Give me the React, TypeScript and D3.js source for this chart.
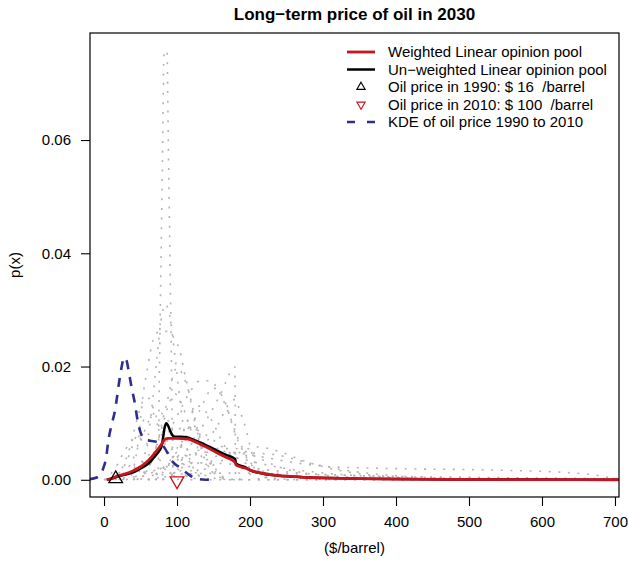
import React, { useEffect, useRef } from "react";
import * as d3 from "d3";

type Pt = [number, number];

// axis ticks
const xTicks = [0, 100, 200, 300, 400, 500, 600, 700];
const yTicks = [0, 0.02, 0.04, 0.06];

// observed prices ($/barrel)
const price1990 = 16;
const price2010 = 100;

// pooled densities
const weightedPool: Pt[] = [
  [3.7, 0], [10, 0.0002], [17, 0.0006], [28, 0.001], [40, 0.0016], [50, 0.0023],
  [58, 0.0031], [65, 0.004], [70, 0.0048], [75, 0.0056], [79, 0.0063], [83, 0.0071],
  [88, 0.0073], [100, 0.0073], [115, 0.0072], [125, 0.0067], [131.5, 0.0063],
  [143, 0.0056], [154, 0.0048], [167, 0.004], [179.5, 0.0031], [181, 0.0026],
  [195, 0.002], [200, 0.0017], [214, 0.0012], [227, 0.0009], [241, 0.0007],
  [255, 0.0006], [280, 0.0004], [310, 0.0003], [350, 0.0002], [400, 0.00012],
  [500, 0.00006], [600, 0.00003], [705, 0.00001],
];

const unweightedPool: Pt[] = [
  [3.7, 0], [10, 0.0002], [17, 0.0005], [28, 0.0009], [40, 0.0013], [50, 0.002],
  [58, 0.0026], [65, 0.0034], [70, 0.0042], [75, 0.005], [79, 0.006], [81, 0.0075],
  [83, 0.0092], [85.5, 0.01], [88, 0.0095], [90.5, 0.0087], [93, 0.008], [97, 0.0076],
  [105, 0.0076], [113, 0.0075], [122, 0.0071], [131.5, 0.0066], [143, 0.0059],
  [154, 0.0052], [167, 0.0044], [179.5, 0.0037], [181, 0.0029], [195, 0.0021],
  [200, 0.0017], [214, 0.0012], [227, 0.0009], [241, 0.0007], [255, 0.0006],
  [280, 0.0004], [310, 0.0003], [350, 0.0002], [400, 0.00012], [500, 0.00006],
  [600, 0.00003], [705, 0.00001],
];

const kdeHistoric: Pt[] = [
  [-20, 0.0001], [-10, 0.0004], [-1.4, 0.0019], [3, 0.004], [5.9, 0.0069], [10, 0.0095],
  [15, 0.0122], [21, 0.0175], [25, 0.0205], [27.4, 0.0216], [31, 0.021], [34, 0.019],
  [37.8, 0.0163], [42.4, 0.0134], [46, 0.0105], [49.3, 0.0087], [55, 0.0072],
  [63, 0.0069], [74.4, 0.0066], [79, 0.0062], [83.6, 0.0055], [88, 0.0045],
  [92.6, 0.0034], [98, 0.0027], [104, 0.0022], [110, 0.0015], [115.5, 0.001],
  [121, 0.0005], [127, 0.0002], [135, 0.00005], [145, 0],
];

// individual expert densities (grey dotted)
const expertA: Pt[] = [
  [60, 0], [73.8, 0.0003], [76, 0.02], [78, 0.038], [80, 0.056], [82.3, 0.0756],
  [84.5, 0.0758], [86.3, 0.0756], [88, 0.0603], [90, 0.0423], [92, 0.0243],
  [94.5, 0.0015], [100, 0], [705, 0],
];
const expertB: Pt[] = [
  [25, 0], [40, 0.002], [47, 0.007], [53, 0.0145], [60, 0.02], [67, 0.0246],
  [76, 0.0262], [88, 0.0262], [98, 0.0245], [104, 0.0228], [110, 0.019],
  [115, 0.0163], [123, 0.011], [132, 0.006], [145, 0.002], [165, 0.0003], [190, 0],
];
const expertC: Pt[] = [
  [45, 0], [65, 0.003], [85, 0.0075], [105, 0.0125], [120, 0.016], [132, 0.0175],
  [145, 0.0175], [158, 0.0155], [170, 0.012], [183, 0.0075], [197, 0.0038],
  [215, 0.0012], [240, 0.0002], [270, 0],
];
const expertD: Pt[] = [
  [80, 0], [100, 0.0025], [120, 0.0065], [140, 0.0105], [160, 0.0152],
  [179.3, 0.0199], [180.2, 0.0003], [200, 0], [705, 0],
];
const expertE: Pt[] = [
  [70, 0], [100, 0.0015], [130, 0.005], [155, 0.0095], [172, 0.0135], [180, 0.0142],
  [186, 0.0122], [195, 0.0087], [203, 0.0045], [212, 0.0015], [225, 0.0002], [240, 0],
];
const expertF: Pt[] = [
  [40, 0], [70, 0.0015], [100, 0.0035], [130, 0.0048], [160, 0.005], [190, 0.0046],
  [223, 0.0039], [248, 0.0033], [273, 0.0028], [310, 0.0023], [355, 0.0021],
  [433, 0.0019], [500, 0.0018], [570, 0.0016], [631, 0.0013], [670, 0.0009],
  [697, 0.0003], [705, 0.0002],
];
const expertG: Pt[] = [
  [30, 0], [80, 0.002], [120, 0.003], [170, 0.0028], [220, 0.0018], [280, 0.0011],
  [350, 0.0007], [430, 0.0005], [520, 0.0004], [610, 0.0003], [705, 0.0002],
];
const expertH: Pt[] = [
  [60, 0], [100, 0.003], [140, 0.0055], [180, 0.0055], [214, 0.0037], [241, 0.0022],
  [270, 0.0013], [310, 0.0007], [360, 0.0003], [420, 0.0001], [500, 0],
];
const expertJ: Pt[] = [
  [15, 0], [35, 0.0025], [50, 0.0068], [62, 0.0105], [72, 0.012], [84, 0.0112],
  [97, 0.0078], [112, 0.0042], [130, 0.0015], [155, 0.0002], [180, 0],
];
const expertK: Pt[] = [
  [25, 0], [55, 0.0025], [80, 0.0062], [100, 0.0088], [115, 0.0093], [135, 0.0083],
  [160, 0.006], [190, 0.0032], [225, 0.0012], [270, 0.0003], [320, 0],
];
const expertL: Pt[] = [
  [45, 0], [65, 0.0035], [80, 0.0095], [90, 0.0138], [97, 0.0152], [106, 0.0135],
  [118, 0.0092], [132, 0.0045], [150, 0.0012], [170, 0],
];
const expertM: Pt[] = [
  [5, 0], [22, 0.0015], [35, 0.0055], [45, 0.0105], [53, 0.0138], [60, 0.0145],
  [68, 0.0125], [80, 0.0075], [95, 0.003], [115, 0.0006], [135, 0],
];
const expertN: Pt[] = [
  [80, 0], [130, 0.003], [180, 0.0048], [230, 0.0045], [280, 0.003], [330, 0.0017],
  [390, 0.0008], [460, 0.0003], [540, 0],
];
const expertO: Pt[] = [
  [80, 0], [95, 0.002], [108, 0.0065], [120, 0.0098], [132, 0.0078], [145, 0.0038],
  [160, 0.0008], [175, 0],
];
const expertP: Pt[] = [
  [0, 0], [100, 0.001], [200, 0.0012], [300, 0.0009], [400, 0.0006], [500, 0.0004],
  [600, 0.0002], [705, 0.0001],
];
const expertQ: Pt[] = [
  [40, 0], [55, 0.004], [65, 0.012], [72, 0.021], [78, 0.028], [84, 0.031],
  [90, 0.029], [97, 0.022], [105, 0.013], [113, 0.006], [125, 0.0015], [140, 0],
];
const expertR: Pt[] = [
  [50, 0], [70, 0.005], [85, 0.013], [100, 0.0198], [115, 0.016], [130, 0.008],
  [145, 0.003], [165, 0],
];
const expertS: Pt[] = [
  [60, 0], [100, 0.005], [130, 0.012], [150, 0.0162], [165, 0.014], [180, 0.008],
  [200, 0.003], [230, 0],
];
const expertT: Pt[] = [
  [10, 0], [30, 0.003], [45, 0.008], [60, 0.0112], [75, 0.0095], [95, 0.005],
  [120, 0.0015], [150, 0],
];
const expertU: Pt[] = [
  [20, 0], [50, 0.003], [90, 0.007], [130, 0.006], [180, 0.004], [240, 0.0022],
  [300, 0.0012], [380, 0.0005], [460, 0],
];
const expertV: Pt[] = [
  [70, 0], [95, 0.004], [115, 0.0105], [130, 0.013], [145, 0.011], [165, 0.006],
  [190, 0.002], [215, 0],
];
const expertW: Pt[] = [
  [100, 0], [140, 0.002], [180, 0.0045], [210, 0.0058], [240, 0.005], [270, 0.0035],
  [310, 0.002], [360, 0.0009], [420, 0.0003], [500, 0],
];
const expertX: Pt[] = [
  [0, 0], [15, 0.002], [30, 0.0055], [45, 0.0075], [60, 0.006], [80, 0.003],
  [100, 0.001], [120, 0],
];

const expertCurves = [
  expertA, expertB, expertC, expertD, expertE, expertF, expertG, expertH,
  expertJ, expertK, expertL, expertM, expertN, expertO, expertP, expertQ,
  expertR, expertS, expertT, expertU, expertV, expertW, expertX,
];

const legendLabels = [
  "Weighted Linear opinion pool",
  "Un\u2212weighted Linear opinion pool",
  "Oil price in 1990: $ 16  /barrel",
  "Oil price in 2010: $ 100  /barrel",
  "KDE of oil price 1990 to 2010",
];

const RED = "#c8141e";
const BLUE = "#2e2e8c";
const GREY = "#b4b4b4";
const FONT = "'Liberation Sans', Arial, Helvetica, sans-serif";

const App = () => {
  const ref = useRef<SVGSVGElement>(null);
  const width = 628;
  const height = 564;

  useEffect(() => {
    document.body.style.margin = "0";
    const svg = d3.select(ref.current);
    svg.selectAll("*").remove();

    const margin = { top: 33, right: 9, bottom: 67, left: 90 };

    const x = d3
      .scaleLinear()
      .domain([-19.2, 705.5])
      .range([margin.left, width - margin.right]);
    const y = d3
      .scaleLinear()
      .domain([-0.00304, 0.0789])
      .range([height - margin.bottom, margin.top]);

    svg.style("font-family", FONT);

    // clip to plot region
    svg.append("clipPath")
      .attr("id", "plot-clip")
      .append("rect")
      .attr("x", margin.left)
      .attr("y", margin.top)
      .attr("width", width - margin.left - margin.right)
      .attr("height", height - margin.top - margin.bottom);

    const line = d3
      .line<Pt>()
      .x((d) => x(d[0]))
      .y((d) => y(d[1]))
      .curve(d3.curveMonotoneX);

    const plot = svg.append("g").attr("clip-path", "url(#plot-clip)");

    // expert densities
    plot.append("g")
      .selectAll("path")
      .data(expertCurves)
      .join("path")
      .attr("d", (d) => line(d))
      .attr("fill", "none")
      .attr("stroke", GREY)
      .attr("stroke-width", 1.6)
      .attr("stroke-dasharray", "2 7.6");

    // KDE of historic prices
    plot.append("path")
      .attr("d", line(kdeHistoric))
      .attr("fill", "none")
      .attr("stroke", BLUE)
      .attr("stroke-width", 2.6)
      .attr("stroke-dasharray", "9 8");

    plot.append("path")
      .attr("d", line(unweightedPool))
      .attr("fill", "none")
      .attr("stroke", "#000")
      .attr("stroke-width", 2.5)
      .attr("stroke-linejoin", "round");

    plot.append("path")
      .attr("d", line(weightedPool))
      .attr("fill", "none")
      .attr("stroke", RED)
      .attr("stroke-width", 2.8)
      .attr("stroke-linejoin", "round");

    // price markers
    const triBig = d3.symbol().type(d3.symbolTriangle).size(80);
    plot.append("path")
      .attr("d", triBig())
      .attr("transform", `translate(${x(price1990)},${y(0) - 1})`)
      .attr("fill", "none")
      .attr("stroke", "#000")
      .attr("stroke-width", 1.3);
    plot.append("path")
      .attr("d", triBig())
      .attr("transform", `translate(${x(price2010)},${y(0) + 1}) rotate(180)`)
      .attr("fill", "none")
      .attr("stroke", RED)
      .attr("stroke-width", 1.3);

    // box
    svg.append("rect")
      .attr("x", margin.left)
      .attr("y", margin.top)
      .attr("width", width - margin.left - margin.right)
      .attr("height", height - margin.top - margin.bottom)
      .attr("fill", "none")
      .attr("stroke", "#000")
      .attr("stroke-width", 1.2);

    // axes
    const xAxis = svg.append("g")
      .attr("transform", `translate(0,${height - margin.bottom})`)
      .call(d3.axisBottom(x).tickValues(xTicks).tickSize(9).tickSizeOuter(0).tickPadding(10));
    const yAxis = svg.append("g")
      .attr("transform", `translate(${margin.left},0)`)
      .call(
        d3.axisLeft(y)
          .tickValues(yTicks)
          .tickSize(9)
          .tickSizeOuter(0)
          .tickPadding(10)
          .tickFormat((d) => d3.format(".2f")(d as number))
      );
    [xAxis, yAxis].forEach((g) => {
      g.select(".domain").remove();
      g.selectAll("line").attr("stroke", "#000").attr("stroke-width", 1.1);
      g.selectAll("text")
        .attr("fill", "#000")
        .style("font-size", "15px")
        .style("font-family", FONT);
    });

    // titles
    svg.append("text")
      .attr("x", (margin.left + width - margin.right) / 2)
      .attr("y", 20)
      .attr("text-anchor", "middle")
      .style("font-size", "17px")
      .style("font-weight", "bold")
      .text("Long\u2212term price of oil in 2030");

    svg.append("text")
      .attr("x", (margin.left + width - margin.right) / 2)
      .attr("y", 553)
      .attr("text-anchor", "middle")
      .style("font-size", "15px")
      .text("($/barrel)");

    svg.append("text")
      .attr("transform", `translate(20,${(margin.top + height - margin.bottom) / 2}) rotate(-90)`)
      .attr("text-anchor", "middle")
      .style("font-size", "15px")
      .text("p(x)");

    // legend
    const legend = svg.append("g");
    const rowY = (i: number) => 52 + i * 17.5;
    const lx0 = 347;
    const lx1 = 375;
    const lxm = (lx0 + lx1) / 2;

    legend.append("line")
      .attr("x1", lx0).attr("x2", lx1).attr("y1", rowY(0)).attr("y2", rowY(0))
      .attr("stroke", RED).attr("stroke-width", 2.8);
    legend.append("line")
      .attr("x1", lx0).attr("x2", lx1).attr("y1", rowY(1)).attr("y2", rowY(1))
      .attr("stroke", "#000").attr("stroke-width", 2.5);
    const triSmall = d3.symbol().type(d3.symbolTriangle).size(30);
    legend.append("path")
      .attr("d", triSmall())
      .attr("transform", `translate(${lxm},${rowY(2)})`)
      .attr("fill", "none").attr("stroke", "#000").attr("stroke-width", 1.1);
    legend.append("path")
      .attr("d", triSmall())
      .attr("transform", `translate(${lxm},${rowY(3)}) rotate(180)`)
      .attr("fill", "none").attr("stroke", RED).attr("stroke-width", 1.1);
    legend.append("line")
      .attr("x1", lx0).attr("x2", lx1).attr("y1", rowY(4)).attr("y2", rowY(4))
      .attr("stroke", BLUE).attr("stroke-width", 2.6)
      .attr("stroke-dasharray", "8 12");

    legend.selectAll("text")
      .data(legendLabels)
      .join("text")
      .attr("x", 388)
      .attr("y", (_, i) => rowY(i))
      .attr("dy", "0.35em")
      .style("font-size", "15px")
      .style("white-space", "pre")
      .attr("xml:space", "preserve")
      .text((d) => d);
  }, []);

  return <svg ref={ref} width={width} height={height} style={{ display: "block" }}></svg>;
};

export default App;
